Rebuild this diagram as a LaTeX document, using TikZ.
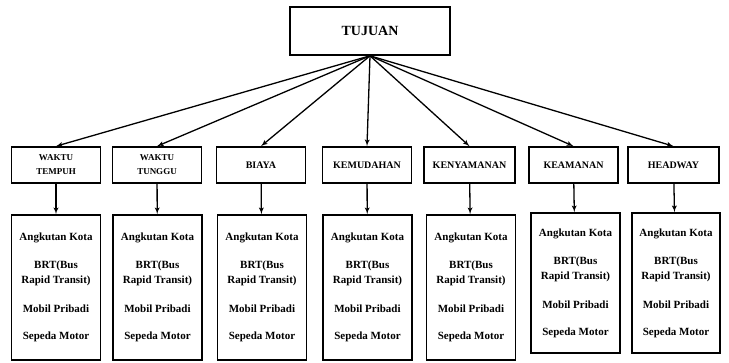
\documentclass[tikz,border=0pt]{standalone}
\usepackage{fontspec}
\setmainfont{Liberation Serif}
\usepackage{tikz}
\usetikzlibrary{arrows}
\tikzstyle{every node}=[font=\bfseries]
\tikzstyle{goal}=[rectangle,
                                    draw=black,
                                    line width=1.6pt,
                                    minimum width=160pt,
                                    minimum height=48pt,
                                    font=\fontsize{14}{16}\selectfont\bfseries
                                    ]
\tikzstyle{criteria}=[rectangle,
                                    draw=black,
                                    line width=1.6pt,
                                    minimum width=89pt,
                                    minimum height=36pt,
                                    align=center,
                                    font=\fontsize{10}{14}\selectfont\bfseries
                                    ]
\tikzstyle{alternative}=[rectangle,
                                    draw=black,
                                    line width=1.6pt,
                                    minimum width=89pt,
                                    minimum height=145pt,
                                    align=center,
                                    font=\fontsize{11}{15}\selectfont\bfseries
                                    ]
\newcommand{\altlist}{Angkutan Kota\\[13pt] BRT(Bus\\ Rapid Transit)\\[14pt] Mobil Pribadi\\[12pt] Sepeda Motor}

\begin{document}
\begin{tikzpicture}[x=1pt,y=-1pt,>=latex']
\useasboundingbox (0,0) rectangle (729,363);
\node (T)   [goal] at (370,31) {TUJUAN};
\node (K_1) [criteria,font=\fontsize{9}{14}\selectfont\bfseries] at (56,165) {WAKTU\\TEMPUH};
\node (K_2) [criteria,font=\fontsize{9}{14}\selectfont\bfseries] at (157,165) {WAKTU\\TUNGGU};
\node (K_3) [criteria] at (261,165) {BIAYA};
\node (K_4) [criteria] at (367,165) {KEMUDAHAN};
\node (K_5) [criteria,minimum width=91pt] at (469.5,165) {KENYAMANAN};
\node (K_6) [criteria] at (573.5,165) {KEAMANAN};
\node (K_7) [criteria,minimum width=91pt] at (673.5,165) {HEADWAY};
\node (A_1) [alternative] at (56,287.5) {\altlist};
\node (A_2) [alternative] at (157.5,287.5) {\altlist};
\node (A_3) [alternative] at (262,287.5) {\altlist};
\node (A_4) [alternative] at (367.5,287.5) {\altlist};
\node (A_5) [alternative] at (471,287.5) {\altlist};
\node (A_6) [alternative,minimum height=140pt] at (575.5,283) {\altlist};
\node (A_7) [alternative,minimum height=140pt,minimum width=88pt] at (676,283) {\altlist};
 \path[->] (T.south) edge[line width=1.3pt] (K_1.north);
 \path[->] (T.south) edge[line width=1.3pt] (K_2.north);
 \path[->] (T.south) edge[line width=1.3pt] (K_3.north);
 \path[->] (T.south) edge[line width=1.3pt] (K_4.north);
 \path[->] (T.south) edge[line width=1.3pt] (K_5.north);
 \path[->] (T.south) edge[line width=1.3pt] (K_6.north);
 \path[->] (T.south) edge[line width=1.3pt] (K_7.north);
 \path[->] (K_1) edge[line width=1.3pt] (A_1);
 \path[->] (K_2) edge[line width=1.3pt] (A_2);
 \path[->] (K_3) edge[line width=1.3pt] (A_3);
 \path[->] (K_4) edge[line width=1.3pt] (A_4);
 \path[->] (K_5) edge[line width=1.3pt] (A_5);
 \path[->] (K_6) edge[line width=1.3pt] (A_6);
 \path[->] (K_7) edge[line width=1.3pt] (A_7);
\end{tikzpicture}
\end{document}
